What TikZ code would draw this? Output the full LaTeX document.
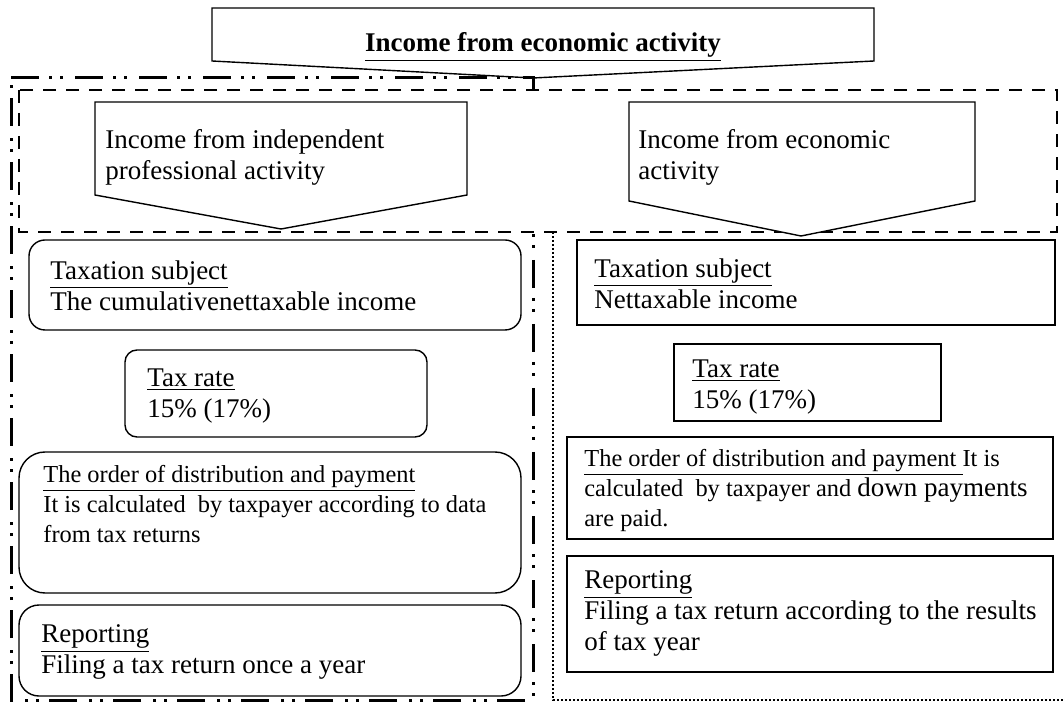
\documentclass[tikz,border=0pt]{standalone}
\usepackage{fontspec}
\setmainfont{Liberation Serif}
\usetikzlibrary{positioning}

\begin{document}
\begin{tikzpicture}[x=0.5pt,y=-0.5pt]
  \tikzset{txt/.style={anchor=north west,inner sep=0pt,align=left,font=\fontsize{13.5}{15.5}\selectfont}}
  \tikzset{smalltxt/.style={txt,font=\fontsize{12.2}{15}\selectfont}}
  \tikzset{frame/.style={line width=0.7pt}}
  \tikzset{dashdot/.style={line width=1.5pt,dash pattern=on 14pt off 5pt on 1.5pt off 4pt on 1.5pt off 6pt}}
  \tikzset{dashreg/.style={line width=1.3pt,dash pattern=on 6.5pt off 5pt}}
  \tikzset{dotreg/.style={line width=0.8pt,dash pattern=on 0.8pt off 1.2pt}}
  \useasboundingbox (0,0) rectangle (1063,704);
  %\draw[step=50,gray,very thin] (0,0) grid (1063,704);

  \draw[dashdot] (11,78) -- (533,78) -- (533,700) -- (11,700) -- cycle;
  \draw[dotreg] (553,232) -- (553,700) -- (1063,700);
  \draw[dashreg,fill=white] (19,90) rectangle (1057,232);

  \draw[frame] (212,8) -- (874,8) -- (874,61) -- (533,78) -- (212,61) -- cycle;
  \node[txt,anchor=base] (T) at (543,52) {\textbf{\underline{Income from economic activity}}};

  \draw[frame,fill=white] (95,102) -- (467,102) -- (467,195) -- (281,229) -- (95,195) -- cycle;
  \node[txt] (L) at (105,129) {Income from independent\\professional activity};

  \draw[frame,fill=white] (629,102) -- (975,102) -- (975,201) -- (801,236) -- (629,201) -- cycle;
  \node[txt] (R) at (638,129) {Income from economic\\activity};

  % left column
  \draw[frame,rounded corners=8pt] (29,240) rectangle (521,330);
  \node[txt] (LS) at (50,260) {\underline{Taxation subject}\\The cumulativenettaxable income};
  \draw[frame,rounded corners=6pt] (125,350) rectangle (427,437);
  \node[txt] (LT) at (147,368) {\underline{Tax rate}\\15\% (17\%)};
  \draw[frame,rounded corners=13pt] (19,452) rectangle (521,593);
  \node[smalltxt] (LO) at (43,465) {\underline{The order of distribution and payment}\\It is calculated~ by taxpayer according to data\\from tax returns};
  \draw[frame,rounded corners=10pt] (19,605) rectangle (521,696);
  \node[txt] (LP) at (41,624) {\underline{Reporting}\\Filing a tax return once a year};

  % right column
  \draw[frame] (577,240) rectangle (1055,325);
  \node[txt] (RS) at (594,258) {\underline{Taxation subject}\\Nettaxable income};
  \draw[frame] (674,344) rectangle (941,421);
  \node[txt] (RT) at (692,359) {\underline{Tax rate}\\15\% (17\%)};
  \draw[frame] (567,437) rectangle (1053,539);
  \node[smalltxt] (RO) at (584,449) {\underline{The order of distribution and payment\ }It is\\calculated~ by taxpayer and {\fontsize{13.5}{15}\selectfont down payments}\\are paid.};
  \draw[frame] (567,556) rectangle (1053,672);
  \node[txt] (RP) at (584,570) {\underline{Reporting}\\Filing a tax return according to the results\\of tax year};
\end{tikzpicture}
\end{document}
